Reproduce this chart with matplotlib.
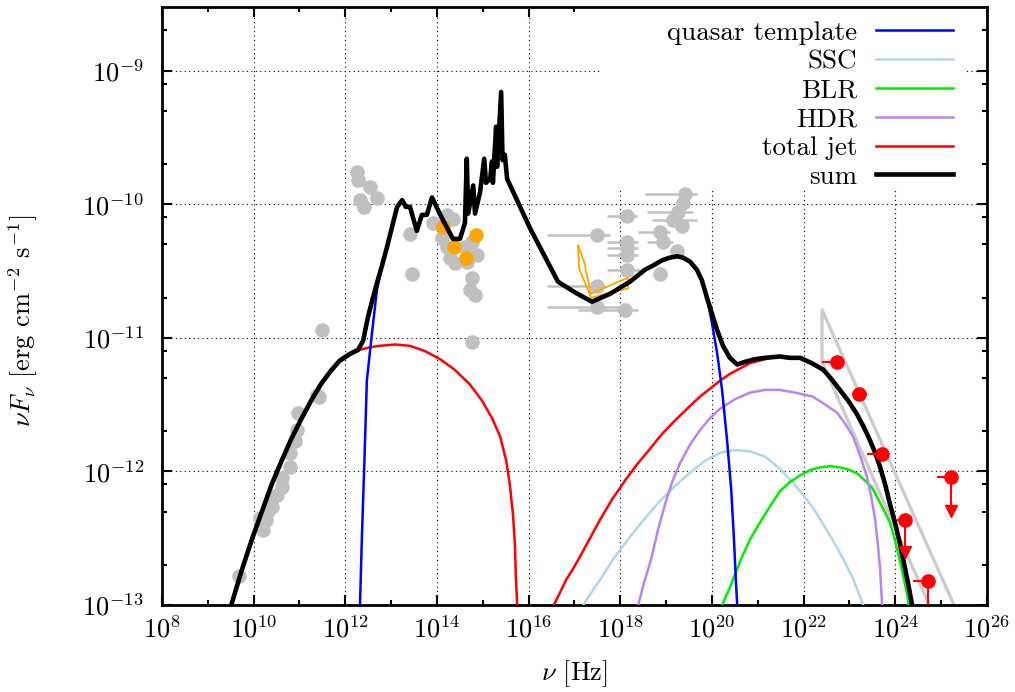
import numpy as np
import matplotlib
matplotlib.use("Agg")
import matplotlib.pyplot as plt
from matplotlib.ticker import FixedLocator, FuncFormatter, NullFormatter
from matplotlib.patches import Rectangle

plt.rcParams['font.family'] = 'cmr10'
plt.rcParams['mathtext.fontset'] = 'cm'
plt.rcParams['axes.formatter.use_mathtext'] = True

# all values are log10(nu / Hz) and log10(nuFnu / erg cm-2 s-1)
nan = np.nan

# quasar template between IR and X-rays, where it dominates the sum
mid_lnu = [12.91, 13.02, 13.13, 13.24, 13.32, 13.41, 13.56, 13.67, 13.78, 13.89, 14.13, 14.35,
           14.50, 14.61, 14.65, 14.68, 14.79, 14.83, 14.94, 15.03, 15.07, 15.16, 15.20, 15.22,
           15.29, 15.31, 15.40, 15.43, 15.48, 15.53, 16.03, 16.64, 17.01, 17.38, 17.78, 18.21,
           18.54, 18.71, 18.91, 19.08, 19.24, 19.37, 19.52, 19.67, 19.78, 19.89]
mid_lf = [-10.32, -10.17, -10.02, -9.97, -10.02, -10.02, -10.20, -10.08, -10.08, -9.95, -10.12,
          -10.26, -10.26, -10.14, -9.66, -10.07, -9.86, -10.07, -9.91, -9.66, -9.84, -9.81, -9.68,
          -9.84, -9.42, -9.72, -9.16, -9.67, -9.63, -9.81, -10.18, -10.58, -10.66, -10.73, -10.67,
          -10.58, -10.49, -10.46, -10.42, -10.40, -10.39, -10.40, -10.43, -10.49, -10.57, -10.70]

tmp_low_lnu = [12.31, 12.32, 12.36, 12.41, 12.47, 12.58, 12.69, 12.80]
tmp_low_lf = [-13.07, -13.0, -12.51, -11.99, -11.32, -10.97, -10.64, -10.47]
tmp_high_lnu = [20.00, 20.11, 20.22, 20.33, 20.42, 20.48, 20.52, 20.55, 20.56]
tmp_high_lf = [-10.89, -11.11, -11.39, -11.77, -12.14, -12.51, -12.81, -13.0, -13.07]

sum_low_lnu = [9.46, 9.52, 9.74, 9.96, 10.18, 10.39, 10.61, 10.83, 11.05, 11.27, 11.48, 11.70,
               11.88, 12.10, 12.28, 12.39, 12.49, 12.58, 12.69, 12.80]
sum_low_lf = [-13.07, -12.99, -12.74, -12.51, -12.30, -12.10, -11.92, -11.75, -11.60, -11.46,
              -11.34, -11.24, -11.17, -11.12, -11.09, -11.02, -10.85, -10.73, -10.59, -10.46]
sum_high_lnu = [20.00, 20.11, 20.24, 20.39, 20.55, 20.72, 20.94, 21.16, 21.48, 21.70, 21.92,
                22.18, 22.43, 22.61, 22.79, 22.97, 23.16, 23.30, 23.45, 23.56, 23.67, 23.78,
                23.88, 23.99, 24.10, 24.19, 24.28, 24.36, 24.39]
sum_high_lf = [-10.82, -10.94, -11.06, -11.15, -11.20, -11.18, -11.16, -11.15, -11.14, -11.15,
               -11.15, -11.19, -11.24, -11.31, -11.39, -11.47, -11.57, -11.66, -11.77, -11.86,
               -11.97, -12.10, -12.24, -12.38, -12.54, -12.69, -12.84, -12.99, -13.06]

# total jet: synchrotron hump, then inverse Compton hump
sync_lnu = [9.46, 9.52, 9.74, 9.96, 10.18, 10.39, 10.61, 10.83, 11.05, 11.27, 11.48, 11.70, 11.88,
            12.10, 12.32, 12.54, 12.76, 13.08, 13.41, 13.74, 14.07, 14.39, 14.72, 14.98, 15.20,
            15.38, 15.51, 15.59, 15.66, 15.70, 15.72, 15.75, 15.76]
sync_lf = [-13.08, -13.0, -12.75, -12.52, -12.31, -12.11, -11.93, -11.76, -11.61, -11.47, -11.35,
           -11.25, -11.18, -11.13, -11.09, -11.07, -11.06, -11.05, -11.06, -11.10, -11.16, -11.24,
           -11.35, -11.47, -11.60, -11.74, -11.92, -12.10, -12.33, -12.55, -12.78, -13.0, -13.07]
ic_lnu = [16.53, 16.55, 16.68, 16.82, 16.95, 17.10, 17.34, 17.56, 17.82, 18.10, 18.36, 18.65,
          18.91, 19.19, 19.46, 19.74, 19.96, 20.18, 20.39, 20.61, 20.83, 21.05, 21.27, 21.48,
          21.70, 21.92, 22.18, 22.43, 22.61, 22.79, 22.97, 23.16, 23.30, 23.45, 23.56, 23.67,
          23.78, 23.88, 23.99, 24.10, 24.19, 24.28, 24.36, 24.39]
ic_lf = [-13.07, -13.0, -12.91, -12.81, -12.74, -12.65, -12.50, -12.36, -12.21, -12.07, -11.95,
         -11.83, -11.72, -11.62, -11.53, -11.44, -11.38, -11.32, -11.27, -11.23, -11.19, -11.17,
         -11.15, -11.14, -11.15, -11.15, -11.19, -11.24, -11.31, -11.39, -11.47, -11.57, -11.66,
         -11.77, -11.86, -11.97, -12.10, -12.24, -12.38, -12.54, -12.69, -12.84, -12.99, -13.06]

ssc_lnu = [17.16, 17.19, 17.34, 17.56, 17.88, 18.21, 18.54, 18.87, 19.19, 19.52, 19.85, 20.18,
           20.50, 20.83, 21.16, 21.48, 21.81, 22.20, 22.47, 22.73, 22.90, 23.06, 23.19, 23.30,
           23.36]
ssc_lf = [-13.05, -13.0, -12.92, -12.81, -12.64, -12.49, -12.35, -12.22, -12.11, -12.01, -11.92,
          -11.86, -11.84, -11.85, -11.89, -11.98, -12.10, -12.27, -12.42, -12.57, -12.68, -12.79,
          -12.90, -13.0, -13.07]

blr_lnu = [20.20, 20.22, 20.39, 20.63, 20.83, 21.05, 21.27, 21.48, 21.70, 21.92, 22.14, 22.36,
           22.58, 22.79, 23.01, 23.19, 23.34, 23.49, 23.60, 23.75, 23.88, 23.99, 24.10, 24.19,
           24.28, 24.30]
blr_lf = [-13.07, -13.0, -12.87, -12.66, -12.51, -12.38, -12.26, -12.15, -12.08, -12.03, -11.99,
          -11.97, -11.96, -11.97, -11.99, -12.02, -12.07, -12.12, -12.19, -12.29, -12.38, -12.51,
          -12.67, -12.81, -12.96, -13.07]

hdr_lnu = [18.36, 18.39, 18.52, 18.67, 18.82, 18.98, 19.13, 19.30, 19.52, 19.74, 19.96, 20.18,
           20.50, 20.83, 21.16, 21.48, 21.81, 22.20, 22.47, 22.73, 22.90, 23.08, 23.23, 23.38,
           23.47, 23.56, 23.62, 23.67, 23.71, 23.73]
hdr_lf = [-13.05, -13.0, -12.83, -12.66, -12.44, -12.24, -12.08, -11.94, -11.80, -11.69, -11.60,
          -11.53, -11.46, -11.41, -11.39, -11.39, -11.41, -11.44, -11.50, -11.56, -11.64, -11.74,
          -11.88, -12.04, -12.18, -12.36, -12.55, -12.74, -12.99, -13.07]

# archival data (grey)
arch_lnu = [9.68, 10.14, 10.20, 10.27, 10.31, 10.40, 10.40, 10.51, 10.62, 10.62, 10.79, 10.79,
            10.90, 10.95, 10.97, 11.38, 11.43, 11.49,
            12.25, 12.28, 12.54, 12.69, 12.32, 12.41, 13.41, 13.45, 13.91, 14.22, 14.35, 14.11,
            14.22, 14.28, 14.39, 14.65, 14.76, 14.87, 14.76, 14.72, 14.83, 14.76, 14.61]
arch_lf = [-12.78, -12.35, -12.44, -12.36, -12.30, -12.21, -12.27, -12.18, -12.12, -12.05, -11.97,
           -11.86, -11.77, -11.69, -11.56, -11.43, -11.44, -10.94,
           -9.76, -9.82, -9.87, -9.95, -9.97, -10.02, -10.22, -10.52, -10.14, -10.08, -10.11,
           -10.25, -10.32, -10.40, -10.44, -10.43, -10.28, -10.38, -10.55, -10.64, -10.68,
           -11.03, -10.32]

# X-ray archival data with frequency bands
xray_lnu = [17.49, 18.15, 18.15, 18.15, 18.15, 18.15, 17.49, 17.49, 18.10, 18.87, 18.87, 18.93,
            19.24, 19.15, 19.35, 19.26, 19.37, 19.41]
xray_lf = [-10.23, -10.09, -10.28, -10.33, -10.38, -10.49, -10.61, -10.77, -10.79, -10.52, -10.21,
           -10.28, -10.35, -10.12, -10.16, -10.06, -9.99, -9.92]
xray_lo = [16.40, 17.71, 17.71, 17.71, 17.71, 17.71, 16.40, 16.40, 17.08, 18.87, 18.38, 18.58,
           19.24, 18.69, 19.35, 18.58, 19.37, 18.54]
xray_hi = [17.78, 18.36, 18.38, 18.38, 18.38, 18.43, 17.67, 17.99, 18.38, 18.87, 19.08, 19.15,
           19.24, 19.67, 19.35, 19.59, 19.37, 19.67]

# simultaneous optical/UV (orange)
opt_lnu = [14.13, 14.37, 14.63, 14.85]
opt_lf = [-10.17, -10.32, -10.40, -10.23]

# X-ray bowtie (orange)
xbow_lnu = [17.08, 17.21, 17.36, 18.17, 18.17, 17.36, 17.10, 17.08]
xbow_lf = [-10.31, -10.43, -10.67, -10.55, -10.63, -10.70, -10.48, -10.31]

# gamma-ray bowtie (grey)
gbow_lnu = [24.74, 22.40, 22.40, 25.28]
gbow_lf = [-13.0, -11.18, -10.79, -13.0]

# gamma-ray spectral points (red)
gam_lnu = [22.73, 23.21, 23.71, 24.21, 24.71, 25.22]
gam_lf = [-11.18, -11.42, -11.87, -12.36, -12.82, -12.04]
gam_lo = [22.40, 23.05, 23.38, 24.04, 24.39, 24.91]
gam_hi = [22.73, 23.38, 23.71, 24.21, 24.71, 25.22]
ul_lnu = [24.21, 24.71, 25.22]
ul_from = [-12.36, -12.82, -12.04]
ul_to = [-12.60, -13.30, -12.30]

grey = '#c0c0c0'

template_lnu = tmp_low_lnu + mid_lnu + tmp_high_lnu
template_lf = tmp_low_lf + mid_lf + tmp_high_lf
sum_lnu = sum_low_lnu + mid_lnu + sum_high_lnu
sum_lf = sum_low_lf + mid_lf + sum_high_lf
jet_lnu = sync_lnu + [nan] + ic_lnu
jet_lf = sync_lf + [nan] + ic_lf

fig = plt.figure(figsize=(10.15, 6.92), dpi=100)
ax = fig.add_axes([0.1596, 0.1257, 0.8128, 0.8642])
ax.set_xscale('log')
ax.set_yscale('log')
ax.set_axisbelow(True)

def p(v):
    return 10 ** np.asarray(v, dtype=float)

# data
ax.plot(p(arch_lnu), p(arch_lf), 'o', color=grey, ms=10.5, mec='none', zorder=2)
xc = p(xray_lnu)
ax.errorbar(xc, p(xray_lf), xerr=[xc - p(xray_lo), p(xray_hi) - xc], fmt='o', color=grey,
            ms=10.5, mec='none', elinewidth=1.8, capsize=0, zorder=2)
ax.plot(p(opt_lnu), p(opt_lf), 'o', color='#ffa500', ms=10.5, mec='none', zorder=2.1)
ax.plot(p(xbow_lnu), p(xbow_lf), '-', color='#ffa500', lw=1.3, zorder=2.1)
ax.plot(p(gbow_lnu), p(gbow_lf), '-', color='#cccccc', lw=2.4, zorder=2.2)

# model
l_ssc, = ax.plot(p(ssc_lnu), p(ssc_lf), color='#add8e6', lw=1.8, zorder=3, label='SSC')
l_blr, = ax.plot(p(blr_lnu), p(blr_lf), color='#00ee00', lw=1.8, zorder=3, label='BLR')
l_hdr, = ax.plot(p(hdr_lnu), p(hdr_lf), color='#b784f5', lw=1.8, zorder=3, label='HDR')
l_jet, = ax.plot(p(jet_lnu), p(jet_lf), color='#ff0000', lw=1.8, zorder=3.1, label='total jet')
l_tmp, = ax.plot(p(template_lnu), p(template_lf), color='#0000ff', lw=1.8, zorder=3.2,
                 label='quasar template')
l_sum, = ax.plot(p(sum_lnu), p(sum_lf), color='black', lw=3.3, zorder=3.3, label='sum')

# gamma-ray points and upper limits
gc = p(gam_lnu)
ax.errorbar(gc, p(gam_lf), xerr=[gc - p(gam_lo), p(gam_hi) - gc], fmt='o', color='#ff0000',
            ms=9.5, elinewidth=1.5, capsize=0, zorder=4)
for x, y0, y1 in zip(ul_lnu, ul_from, ul_to):
    ax.plot(p([x, x]), p([y0, y1]), color='#ff0000', lw=1.5, zorder=4)
    ax.plot(p(x), p(y1), 'v', color='#ff0000', ms=9, zorder=4)

ax.set_xlim(1e8, 1e26)
ax.set_ylim(1e-13, 10 ** -8.524)

ax.xaxis.set_major_locator(FixedLocator(10.0 ** np.arange(8, 27, 2)))
ax.xaxis.set_minor_locator(FixedLocator(10.0 ** np.arange(9, 26, 2)))
ax.yaxis.set_major_locator(FixedLocator(10.0 ** np.arange(-13, -8)))
ax.yaxis.set_minor_locator(FixedLocator([m * 10.0 ** e for e in range(-13, -8) for m in (2, 5, 8)]))
fmt = FuncFormatter(lambda v, pos: r'$10^{%d}$' % round(np.log10(v)))
ax.xaxis.set_major_formatter(fmt)
ax.yaxis.set_major_formatter(fmt)
ax.xaxis.set_minor_formatter(NullFormatter())
ax.yaxis.set_minor_formatter(NullFormatter())

ax.tick_params(which='both', direction='in', top=True, right=True, width=1.5)
ax.tick_params(which='major', length=7)
ax.tick_params(which='minor', length=3.5)
ax.tick_params(axis='x', which='major', pad=8, labelsize=19)
ax.tick_params(axis='y', which='major', pad=13, labelsize=19)
for s in ax.spines.values():
    s.set_linewidth(2.0)

ax.grid(True, which='major', color='black', linestyle=(0, (1, 3)), linewidth=0.8)
# opaque key box hides the grid behind it
ax.add_patch(Rectangle((0.531, 0.694), 0.442, 0.306, transform=ax.transAxes,
                       facecolor='white', edgecolor='none', zorder=1))

ax.set_xlabel(r'$\nu$ [Hz]', fontsize=19)
ax.set_ylabel(r'$\nu F_\nu$ [erg cm$^{-2}$ s$^{-1}$]', fontsize=19)
ax.xaxis.set_label_coords(0.5, -0.089)
ax.yaxis.set_label_coords(-0.148, 0.476)

leg = ax.legend(handles=[l_tmp, l_ssc, l_blr, l_hdr, l_jet, l_sum], loc='upper right',
                bbox_to_anchor=(0.959, 0.977), frameon=False, markerfirst=False,
                fontsize=19.5, handlelength=2.85, handletextpad=0.7, labelspacing=0.18,
                borderpad=0, borderaxespad=0)

fig.savefig('out.png', dpi=100)
